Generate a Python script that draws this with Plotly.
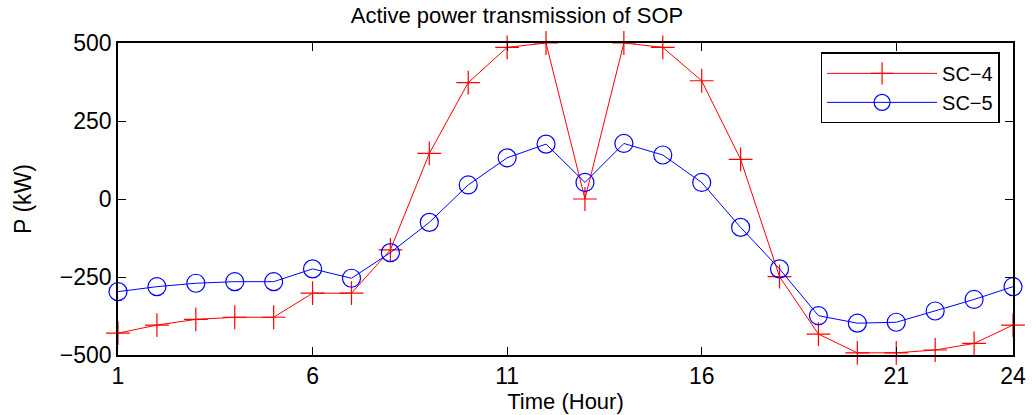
import plotly.graph_objects as go

hours = list(range(1, 25))
sc4 = [-430, -404, -386, -379, -379, -302, -302, -163, 146, 373, 486, 500,
       0, 500, 486, 379, 127, -249, -433, -493, -493, -484, -463, -404]
sc5 = [-297, -281, -270, -265, -265, -224, -254, -172, -75, 45, 132, 176,
       53, 178, 141, 53, -91, -224, -374, -398, -395, -359, -322, -281]
x_ticks = [1, 6, 11, 16, 21, 24]
y_ticks = [-500, -250, 0, 250, 500]

FONT = "Liberation Sans, Arial, sans-serif"

fig = go.Figure()
fig.add_trace(go.Scatter(
    x=hours, y=sc4, name="SC\u22124", mode="lines+markers",
    line=dict(color="#ff0000", width=1),
    marker=dict(symbol="cross-thin", size=17, line=dict(color="#ff0000", width=1.2)),
    cliponaxis=False,
))
fig.add_trace(go.Scatter(
    x=hours, y=sc5, name="SC\u22125", mode="lines+markers",
    line=dict(color="#0000ff", width=1),
    marker=dict(symbol="circle-open", size=18, color="#0000ff", line=dict(color="#0000ff", width=1.2)),
    cliponaxis=False,
))

axis_common = dict(
    showline=True, linecolor="black", linewidth=1.5, mirror="allticks",
    ticks="inside", ticklen=8, tickcolor="black", tickwidth=1,
    showgrid=False, zeroline=False, automargin=False,
    tickfont=dict(family=FONT, size=23, color="black"),
)

fig.update_layout(
    width=1034, height=415,
    margin=dict(l=118, r=21, t=43, b=60),
    paper_bgcolor="white", plot_bgcolor="white",
    title=dict(text="Active power transmission of SOP", x=0.5, xanchor="center",
               y=0.962, yanchor="middle", automargin=False,
               font=dict(family=FONT, size=22, color="black")),
    xaxis=dict(range=[1, 24], tickvals=x_ticks, ticktext=[str(t) for t in x_ticks],
               title=dict(text="Time (Hour)", standoff=0,
                          font=dict(family=FONT, size=22, color="black")),
               **axis_common),
    yaxis=dict(range=[-500, 500], tickvals=y_ticks, ticktext=["\u2212500", "\u2212250", "0", "250", "500"],
               title=dict(text="P (kW)", standoff=22,
                          font=dict(family=FONT, size=23, color="black")),
               **axis_common),
    legend=dict(x=0.785, y=0.97, xanchor="left", yanchor="top",
                bgcolor="white", bordercolor="black", borderwidth=1.5,
                font=dict(family=FONT, size=20, color="black"),
                itemwidth=110, tracegroupgap=0),
    showlegend=True,
)

fig.write_html("out.html")
